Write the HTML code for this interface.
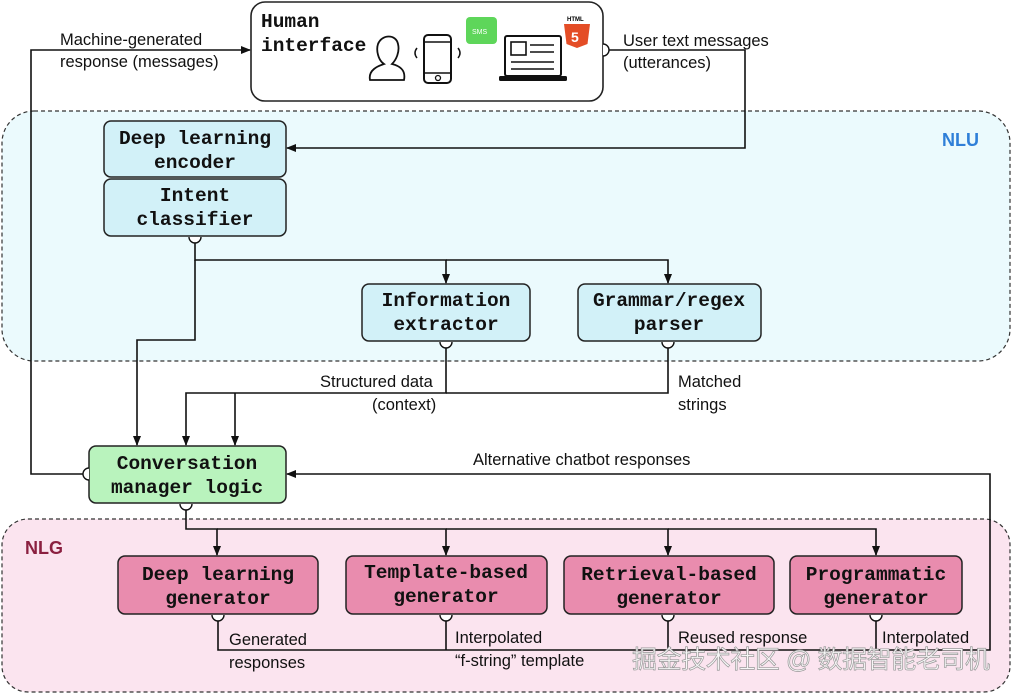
<!DOCTYPE html>
<html><head><meta charset="utf-8"><style>
html,body{margin:0;padding:0;background:#fff}
svg{display:block}
.m{font-family:"Liberation Mono",monospace;font-weight:bold;font-size:19.5px;fill:#111}
.s{font-family:"Liberation Sans",sans-serif;font-size:16.5px;fill:#111}
.l{stroke:#111;stroke-width:1.6;fill:none}
.b{stroke:#222;stroke-width:1.5}
</style></head><body>
<svg width="1012" height="694" viewBox="0 0 1012 694" xmlns="http://www.w3.org/2000/svg">
<defs><marker id="a" markerWidth="10" markerHeight="10" refX="9" refY="5" orient="auto" markerUnits="userSpaceOnUse"><path d="M0,1 L10,5 L0,9 Z" fill="#111"/></marker></defs>
<rect x="2" y="111" width="1008" height="250" rx="32" fill="#ebfafd" stroke="#333" stroke-width="1.2" stroke-dasharray="4,3"/>
<rect x="2" y="519" width="1008" height="173" rx="26" fill="#fbe4ef" stroke="#333" stroke-width="1.2" stroke-dasharray="4,3"/>
<text x="942" y="146" font-family="Liberation Sans,sans-serif" font-weight="bold" font-size="18" fill="#2f7fd8">NLU</text>
<text x="25" y="554" font-family="Liberation Sans,sans-serif" font-weight="bold" font-size="18" fill="#8b2040">NLG</text>
<rect x="251" y="2" width="352" height="99" rx="14" fill="#fff" stroke="#222" stroke-width="1.6"/>
<text class="m" x="261" y="27">Human</text><text class="m" x="261" y="51">interface</text>
<path d="M370,80 C368,70 378,66 384,64 C378,60 376,50 378,44 C382,34 396,34 398,44 C400,52 396,60 392,64 C400,66 406,70 404,80 Z" fill="none" stroke="#111" stroke-width="1.8"/>
<rect x="424" y="35" width="27" height="48" rx="4" fill="none" stroke="#111" stroke-width="2"/>
<line x1="424" y1="42" x2="451" y2="42" stroke="#111" stroke-width="1.5"/><line x1="424" y1="73" x2="451" y2="73" stroke="#111" stroke-width="1.5"/>
<circle cx="438" cy="78" r="2.5" fill="none" stroke="#111" stroke-width="1.3"/>
<path d="M417,48 q-4,5 0,10 M458,48 q4,5 0,10" stroke="#111" stroke-width="1.5" fill="none"/>
<rect x="466" y="17" width="31" height="27" rx="4" fill="#5ed65a"/><text x="472" y="34" font-family="Liberation Sans" font-size="7" fill="#fff">SMS</text>
<rect x="505" y="36" width="56" height="40" rx="2" fill="none" stroke="#111" stroke-width="2"/>
<rect x="499" y="76" width="68" height="5" rx="1.5" fill="#111"/>
<rect x="511" y="42" width="15" height="13" fill="none" stroke="#111" stroke-width="1.6"/>
<path d="M530,45h24M530,52h24M511,62h43M511,69h43" stroke="#111" stroke-width="1.6"/>
<text x="567" y="21" font-family="Liberation Sans" font-weight="bold" font-size="6">HTML</text>
<path d="M564,24 h26 l-2.5,20 l-10.5,4 l-10.5,-4 z" fill="#e44d26"/><text x="571" y="42" font-family="Liberation Sans" font-weight="bold" font-size="14" fill="#fff">5</text>
<g class="b" fill="#d2f1f8">
<rect x="104" y="121" width="182" height="56" rx="7"/>
<rect x="104" y="179" width="182" height="57" rx="7"/>
<rect x="362" y="284" width="168" height="57" rx="7"/>
<rect x="578" y="284" width="183" height="57" rx="7"/>
</g>
<rect x="89" y="446" width="197" height="57" rx="7" fill="#b9f3bd" class="b"/>
<g class="b" fill="#e98cae">
<rect x="118" y="556" width="200" height="58" rx="7"/>
<rect x="346" y="556" width="201" height="58" rx="7"/>
<rect x="564" y="556" width="210" height="58" rx="7"/>
<rect x="790" y="556" width="172" height="58" rx="7"/>
</g>
<g class="m" text-anchor="middle">
<text x="195" y="144">Deep learning</text><text x="195" y="168">encoder</text>
<text x="195" y="201">Intent</text><text x="195" y="225">classifier</text>
<text x="446" y="306">Information</text><text x="446" y="330">extractor</text>
<text x="669" y="306">Grammar/regex</text><text x="669" y="330">parser</text>
<text x="187" y="469">Conversation</text><text x="187" y="493">manager logic</text>
<text x="218" y="580">Deep learning</text><text x="218" y="604">generator</text>
<text x="446" y="578">Template-based</text><text x="446" y="602">generator</text>
<text x="669" y="580">Retrieval-based</text><text x="669" y="604">generator</text>
<text x="876" y="580">Programmatic</text><text x="876" y="604">generator</text>
</g>
<g fill="#fff" stroke="#111" stroke-width="1.4">
<path d="M189,237 a6,6 0 0 0 12,0"/>
<path d="M440,342 a6,6 0 0 0 12,0"/>
<path d="M662,342 a6,6 0 0 0 12,0"/>
<path d="M180,504 a6,6 0 0 0 12,0"/>
<path d="M89,468 a6,6 0 0 0 0,12"/>
<path d="M603,44 a6,6 0 0 1 0,12"/>
<path d="M212,615 a6,6 0 0 0 12,0"/>
<path d="M440,615 a6,6 0 0 0 12,0"/>
<path d="M662,615 a6,6 0 0 0 12,0"/>
<path d="M870,615 a6,6 0 0 0 12,0"/>
</g>
<g class="l">
<path d="M83,474 H31 V50 H250" marker-end="url(#a)"/>
<path d="M609,50 H745 V148 H287" marker-end="url(#a)"/>
<path d="M195,243 V260 H446 V283" marker-end="url(#a)"/>
<path d="M446,260 H668 V283" marker-end="url(#a)"/>
<path d="M195,260 V340 H137 V445" marker-end="url(#a)"/>
<path d="M446,348 V393 H186 V445" marker-end="url(#a)"/>
<path d="M668,348 V393 H446"/>
<path d="M235,393 V445" marker-end="url(#a)"/>
<path d="M186,510 V529 H217 V555" marker-end="url(#a)"/>
<path d="M217,529 H446 V555" marker-end="url(#a)"/>
<path d="M446,529 H668 V555" marker-end="url(#a)"/>
<path d="M668,529 H876 V555" marker-end="url(#a)"/>
<path d="M218,621 V650 H990 V474 H287" marker-end="url(#a)"/>
<path d="M446,621 V650 M668,621 V650 M876,621 V650"/>
</g>
<g class="s">
<text x="60" y="45">Machine-generated</text><text x="60" y="67">response (messages)</text>
<text x="623" y="46">User text messages</text><text x="623" y="68">(utterances)</text>
<text x="320" y="387">Structured data</text><text x="372" y="410">(context)</text>
<text x="678" y="387">Matched</text><text x="678" y="410">strings</text>
<text x="473" y="465">Alternative chatbot responses</text>
<text x="229" y="645">Generated</text><text x="229" y="668">responses</text>
<text x="455" y="643">Interpolated</text><text x="455" y="666">“f-string” template</text>
<text x="678" y="643">Reused response</text>
<text x="882" y="643">Interpolated</text>
</g>
<text x="632" y="668" font-family="Liberation Sans,'Noto Sans CJK SC',sans-serif" font-size="25" fill="#f6f6f6" stroke="#999" stroke-width="0.7" textLength="358">掘金技术社区 @ 数据智能老司机</text>
</svg>
</body></html>
